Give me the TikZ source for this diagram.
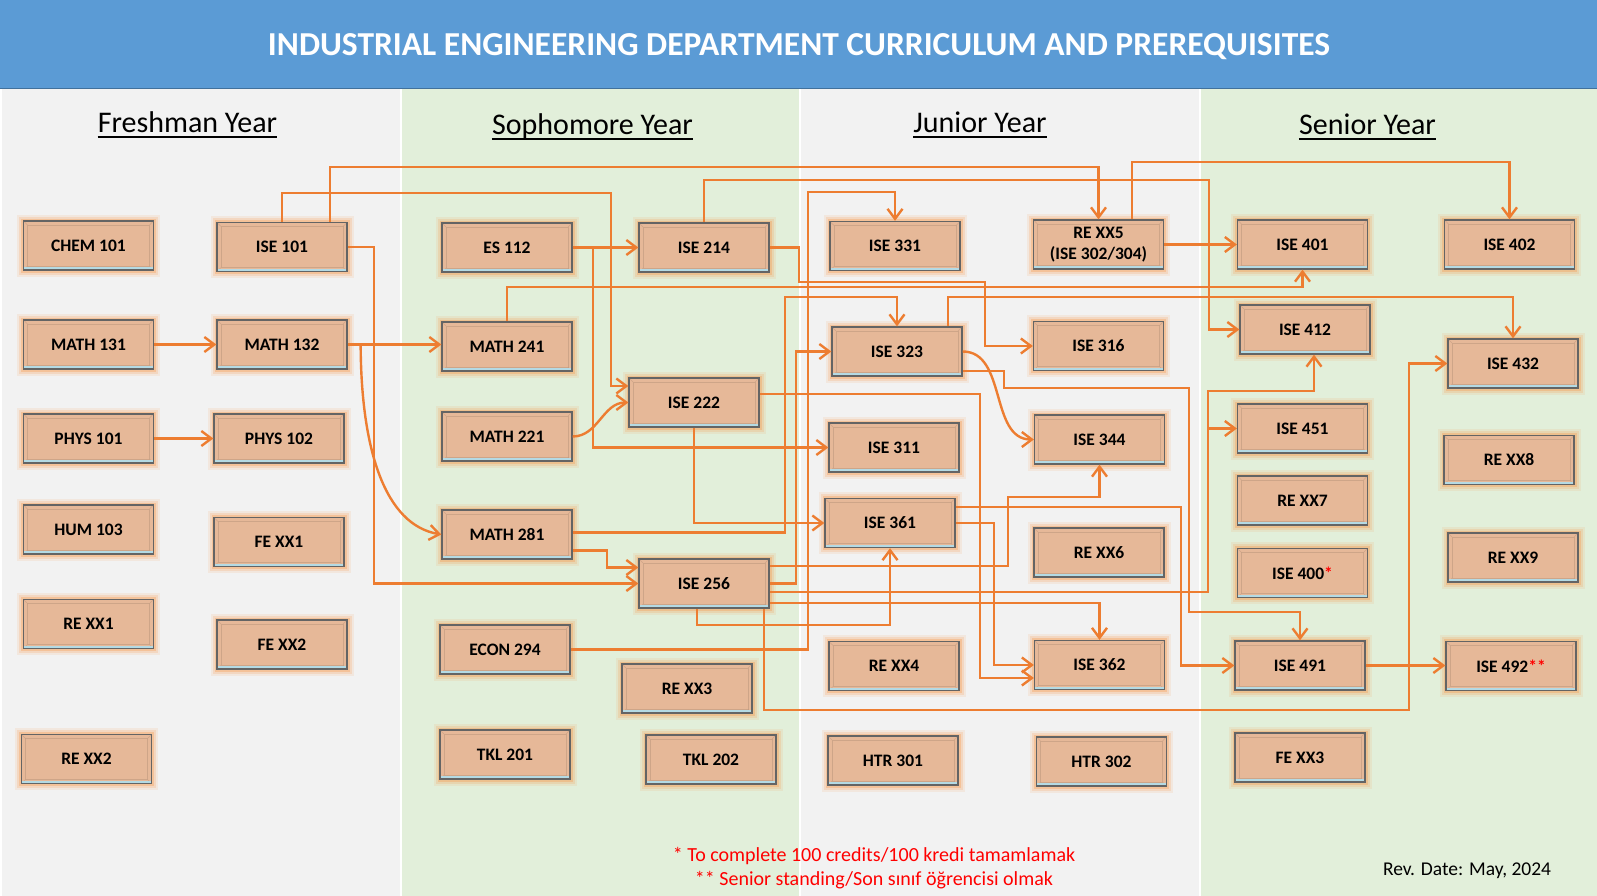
\documentclass[tikz,border=0pt]{standalone}
\usepackage{fontspec}
\setmainfont{Carlito}
\usetikzlibrary{arrows.meta}
\definecolor{titleblue}{RGB}{91,155,213}
\definecolor{titleedge}{RGB}{65,113,156}
\definecolor{graybg}{RGB}{242,242,242}
\definecolor{greenbg}{RGB}{226,239,218}
\definecolor{lineorange}{RGB}{237,125,49}
\definecolor{boxfill}{RGB}{230,184,152}
\definecolor{boxedge}{RGB}{100,100,100}
\definecolor{glow}{RGB}{247,155,80}
\definecolor{bevel}{RGB}{180,218,228}
\definecolor{noteRed}{RGB}{255,0,0}
\tikzset{
  course/.style={draw=boxedge, line width=1.3pt, fill=boxfill,
    minimum width=130pt, minimum height=49pt, inner sep=0pt,
    font=\fontsize{17.5}{21}\selectfont\bfseries, align=center,
    preaction={draw=glow, line width=13pt, draw opacity=0.12},
    preaction={draw=glow, line width=9pt, draw opacity=0.2},
    preaction={draw=glow, line width=5pt, draw opacity=0.35},
    path picture={
      \draw[boxfill!80!black, line width=0.6pt, opacity=0.5]
        ([shift={(4pt,4pt)}]path picture bounding box.south west) rectangle
        ([shift={(-4pt,-4pt)}]path picture bounding box.north east);
      \draw[boxfill!80!black, line width=0.5pt, opacity=0.5]
        (path picture bounding box.south west) -- ([shift={(4pt,4pt)}]path picture bounding box.south west)
        (path picture bounding box.north east) -- ([shift={(-4pt,-4pt)}]path picture bounding box.north east)
        (path picture bounding box.north west) -- ([shift={(4pt,-4pt)}]path picture bounding box.north west)
        (path picture bounding box.south east) -- ([shift={(-4pt,4pt)}]path picture bounding box.south east);
      \draw[bevel, line width=2pt]
        ([yshift=1.8pt]path picture bounding box.south west) -- ([yshift=1.8pt]path picture bounding box.south east);
    }},
  conn/.style={draw=lineorange, line width=2.4pt},
  arr/.style={conn, -{Straight Barb[length=10pt,width=15pt]}},
  heading/.style={font=\fontsize{30}{33}\selectfont, anchor=base, inner sep=0pt},
  uline/.style={line width=1.8pt},
}
\begin{document}
\begin{tikzpicture}[x=1pt,y=-1pt]
\useasboundingbox (0,0) rectangle (1597,896);
% backgrounds
\fill[white] (0,0) rectangle (1597,896);
\fill[graybg] (2,89) rectangle (400,896);
\fill[greenbg] (402,89) rectangle (799,896);
\fill[graybg] (801,89) rectangle (1199,896);
\fill[greenbg] (1201,89) rectangle (1597,896);
\fill[titleblue] (0,0) rectangle (1597,89);
\draw[titleedge, line width=1.5pt] (0,88.5) -- (1597,88.5);
\node[font=\fontsize{33.5}{36}\selectfont\bfseries, text=white] (title) at (799,47)
  {INDUSTRIAL ENGINEERING DEPARTMENT CURRICULUM AND PREREQUISITES};
% headings
\node[heading] (hfr) at (187.5,133) {Freshman Year};
\node[heading] (hso) at (592.5,135) {Sophomore Year};
\node[heading] (hju) at (980,133) {Junior Year};
\node[heading] (hse) at (1367.5,135) {Senior Year};
\foreach \h in {hfr,hso,hju,hse}
  \draw[uline] ([yshift=-4pt]\h.base west) -- ([yshift=-4pt]\h.base east);
% freshman
\node[course] (chem101) at (88.5,245.5) {CHEM 101};
\node[course] (ise101) at (282,247) {ISE 101};
\node[course] (math131) at (88.5,344.5) {MATH 131};
\node[course] (math132) at (282,344.5) {MATH 132};
\node[course] (phys101) at (88.5,438.5) {PHYS 101};
\node[course] (phys102) at (279,438.5) {PHYS 102};
\node[course] (hum103) at (88.5,529.5) {HUM 103};
\node[course] (fexx1) at (279,542) {FE XX1};
\node[course] (rexx1) at (88.5,624) {RE XX1};
\node[course] (fexx2) at (282,644.5) {FE XX2};
\node[course] (rexx2) at (86.5,759) {RE XX2};
% sophomore
\node[course] (es112) at (507,247.5) {ES 112};
\node[course] (ise214) at (704,247.5) {ISE 214};
\node[course] (math241) at (507,346.5) {MATH 241};
\node[course] (math221) at (507,436.5) {MATH 221};
\node[course] (ise222) at (694,402.5) {ISE 222};
\node[course] (math281) at (507,534.5) {MATH 281};
\node[course] (ise256) at (704,583.5) {ISE 256};
\node[course] (econ294) at (505,649.5) {ECON 294};
\node[course] (rexx3) at (687,688.5) {RE XX3};
\node[course] (tkl201) at (505,754.5) {TKL 201};
\node[course] (tkl202) at (711,759.5) {TKL 202};
% junior
\node[course] (ise331) at (895,246) {ISE 331};
\node[course] (rexx5) at (1098.5,244.5) {RE XX5\\(ISE 302/304)};
\node[course] (ise323) at (897,351.5) {ISE 323};
\node[course] (ise316) at (1098.5,346) {ISE 316};
\node[course] (ise311) at (894,447.5) {ISE 311};
\node[course] (ise344) at (1099.5,439.5) {ISE 344};
\node[course] (ise361) at (890,523) {ISE 361};
\node[course] (rexx6) at (1099,552.5) {RE XX6};
\node[course] (rexx4) at (894,666) {RE XX4};
\node[course] (ise362) at (1099.5,665) {ISE 362};
\node[course] (htr301) at (893,760.5) {HTR 301};
\node[course] (htr302) at (1101.5,761.5) {HTR 302};
% senior
\node[course] (ise401) at (1302.5,244.5) {ISE 401};
\node[course] (ise402) at (1509.5,244.5) {ISE 402};
\node[course] (ise412) at (1305,329.5) {ISE 412};
\node[course] (ise432) at (1513,363.5) {ISE 432};
\node[course] (ise451) at (1302.5,428.5) {ISE 451};
\node[course] (rexx8) at (1509,460) {RE XX8};
\node[course] (rexx7) at (1302.5,500.5) {RE XX7};
\node[course] (rexx9) at (1513,557.5) {RE XX9};
\node[course] (ise400) at (1302.5,573) {ISE 400{\color{noteRed}*}};
\node[course] (ise491) at (1300,665.5) {ISE 491};
\node[course] (ise492) at (1511,666) {ISE 492{\color{noteRed}**}};
\node[course] (fexx3) at (1300,757.5) {FE XX3};
% connectors
\draw[arr] (math131.east) -- (math132.west);
\draw[arr] (phys101.east) -- (phys102.west);
\draw[arr] (es112.east) -- (ise214.west);
\draw[arr] (rexx5.east) -- (ise401.west);
\draw[arr] (ise491.east) -- (ise492.west |- ise491.east);
\draw[arr] (math132.east) -- (math241.west |- math132.east);
\draw[arr] ([xshift=48pt]ise101.north) |- (1098.5,167) -- (rexx5.north);
\draw[arr] (ise101.north) |- (611,193) |- ([yshift=16.5pt]ise222.west);
\draw[arr] (ise101.east) -- (374,247) |- (ise256.west);
\draw[arr] ([xshift=13pt]math132.east) .. controls (361,450) and (385,525) .. (math281.west);
\draw[arr] ([yshift=-16pt]math281.east) -- (607,550.5) |- ([yshift=16pt]ise256.west);
\draw[arr] ([yshift=2pt]math281.east) -- (785,532.5) |- (897,297) -- (ise323.north);
\draw[arr] (es112.east) -- (593,247.5) |- (ise311.west);
\draw[arr] (math221.east) to[out=0,in=180] (ise222.west);
\draw[arr] (ise214.north) |- (1209,180) |- (ise412.west);
\draw[arr] (ise214.east) -- (799,247.5) |- (985,282) |- (ise316.west);
\draw[arr] (math241.north) |- (1302.5,287) -- (ise401.south);
\draw[arr] ([xshift=51pt]ise323.north) |- (1513,297) -- (ise432.north);
\draw[arr] (ise323.east) to[out=0,in=180] (ise344.west);
\draw[arr] ([yshift=-19.5pt]ise323.east) -- (1004,371) |- (1189,388) |- (1300,612) -- (ise491.north);
\draw[arr] ([yshift=-8.5pt]ise256.east) -- (1208,592) |- (1314,391) -- ([xshift=9pt]ise412.south);
\coordinate (j451) at (1208,428.5);
\draw[arr] (j451) -- (ise451.west);
\draw[arr] ([yshift=17.5pt]ise256.east) -- (1008,566) |- (1099.5,497) -- (ise344.south);
\draw[arr] (ise256.east) -- (796,583.5) |- (ise323.west);
\draw[arr] ([yshift=-19.5pt]ise256.east) -- (1099.5,603) -- (ise362.north);
\draw[arr] ([xshift=-7pt]ise256.south) |- (890,625) -- (ise361.south);
\draw[arr] ([xshift=60pt]ise256.south) |- (1409,710) |- (ise432.west);
\draw[arr] (econ294.east) -- (808,649.5) |- (895,192) -- (ise331.north);
\draw[arr] (ise222.south) |- (ise361.west);
\draw[arr] ([yshift=8.5pt]ise222.east) -- (980,394) |- ([yshift=-13pt]ise362.west);
\draw[arr] (ise361.east) -- (994,523) |- (ise362.west);
\draw[arr] ([yshift=16pt]ise361.east) -- (1181,507) |- (ise491.west);
\draw[arr] ([xshift=33.5pt]rexx5.north) |- (1509.5,162) -- (ise402.north);
% notes
\node[text=noteRed, font=\fontsize{20}{24}\selectfont, align=center] (notes) at (874,868)
  {* To complete 100 credits/100 kredi tamamlamak\\** Senior standing/Son sınıf öğrencisi olmak};
\node[font=\fontsize{19.5}{22}\selectfont] (rev) at (1467,871) {Rev. Date: May, 2024};
\end{tikzpicture}
\end{document}
